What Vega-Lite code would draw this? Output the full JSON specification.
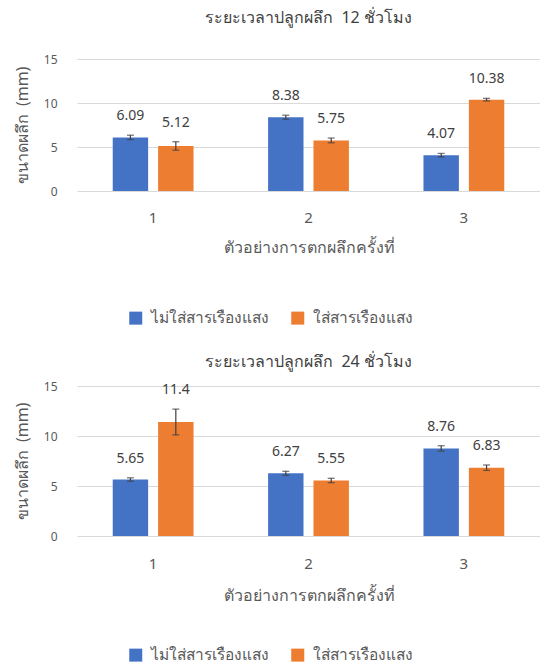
{
  "$schema": "https://vega.github.io/schema/vega-lite/v6.json",
  "padding": {"left": 14, "top": 10, "right": 0, "bottom": 0},
  "background": "white",
  "config": {
    "font": "Noto Sans",
    "view": {"stroke": null},
    "axis": {
      "labelColor": "#595959",
      "titleColor": "#595959",
      "labelFontSize": 12,
      "titleFontSize": 16,
      "titleFontWeight": "normal",
      "gridColor": "#D9D9D9",
      "gridWidth": 1.2,
      "domain": false,
      "ticks": false,
      "tickSize": 0
    },
    "title": {"fontSize": 16, "fontWeight": "normal", "color": "#404040"},
    "legend": {"labelColor": "#595959", "labelFontSize": 15.5}
  },
  "datasets": {
    "h12": [
      {"sample": "1", "group": "ไม่ใส่สารเรืองแสง", "value": 6.09, "lo": 5.84, "hi": 6.34, "label": "6.09"},
      {"sample": "1", "group": "ใส่สารเรืองแสง", "value": 5.12, "lo": 4.64, "hi": 5.60, "label": "5.12"},
      {"sample": "2", "group": "ไม่ใส่สารเรืองแสง", "value": 8.38, "lo": 8.15, "hi": 8.61, "label": "8.38"},
      {"sample": "2", "group": "ใส่สารเรืองแสง", "value": 5.75, "lo": 5.48, "hi": 6.02, "label": "5.75"},
      {"sample": "3", "group": "ไม่ใส่สารเรืองแสง", "value": 4.07, "lo": 3.87, "hi": 4.27, "label": "4.07"},
      {"sample": "3", "group": "ใส่สารเรืองแสง", "value": 10.38, "lo": 10.23, "hi": 10.53, "label": "10.38"}
    ],
    "h24": [
      {"sample": "1", "group": "ไม่ใส่สารเรืองแสง", "value": 5.65, "lo": 5.48, "hi": 5.82, "label": "5.65"},
      {"sample": "1", "group": "ใส่สารเรืองแสง", "value": 11.4, "lo": 10.11, "hi": 12.69, "label": "11.4"},
      {"sample": "2", "group": "ไม่ใส่สารเรืองแสง", "value": 6.27, "lo": 6.07, "hi": 6.47, "label": "6.27"},
      {"sample": "2", "group": "ใส่สารเรืองแสง", "value": 5.55, "lo": 5.33, "hi": 5.77, "label": "5.55"},
      {"sample": "3", "group": "ไม่ใส่สารเรืองแสง", "value": 8.76, "lo": 8.49, "hi": 9.03, "label": "8.76"},
      {"sample": "3", "group": "ใส่สารเรืองแสง", "value": 6.83, "lo": 6.56, "hi": 7.10, "label": "6.83"}
    ]
  },
  "spacing": 27,
  "resolve": {"scale": {"color": "independent"}, "legend": {"color": "independent"}},
  "vconcat": [
    {
      "title": {"text": "ระยะเวลาปลูกผลึก\u00a0 12 ชั่วโมง", "offset": 27},
      "width": 463,
      "height": 132,
      "data": {"name": "h12"},
      "encoding": {
        "x": {"field": "sample", "type": "ordinal", "scale": {"paddingInner": 0.48, "paddingOuter": 0.23},
              "axis": {"title": "ตัวอย่างการตกผลึกครั้งที่", "labelAngle": 0, "labelFontSize": 15, "labelPadding": 19, "titlePadding": 14}},
        "xOffset": {"field": "group", "type": "nominal", "scale": {"domain": ["ไม่ใส่สารเรืองแสง", "ใส่สารเรืองแสง"], "paddingInner": 0.22, "paddingOuter": 0}}
      },
      "layer": [
        {
          "mark": {"type": "bar"},
          "encoding": {
            "y": {"field": "value", "type": "quantitative", "title": "ขนาดผลึก\u00a0 (mm)", "scale": {"domain": [0, 15], "nice": false},
                  "axis": {"values": [0, 5, 10, 15], "labelPadding": 20, "titlePadding": 13}},
            "color": {"field": "group", "type": "nominal",
                      "scale": {"domain": ["ไม่ใส่สารเรืองแสง", "ใส่สารเรืองแสง"], "range": ["#4472C4", "#ED7D31"]},
                      "legend": {"orient": "none", "legendX": 51, "legendY": 251, "direction": "horizontal", "title": null,
                                 "symbolType": "square", "symbolSize": 169, "symbolStrokeWidth": 0, "labelOffset": 7, "columnPadding": 21}}
          }
        },
        {
          "mark": {"type": "rule", "color": "#404040", "strokeWidth": 1.2},
          "encoding": {"y": {"field": "lo", "type": "quantitative", "title": "ขนาดผลึก\u00a0 (mm)"}, "y2": {"field": "hi"}}
        },
        {
          "mark": {"type": "tick", "color": "#404040", "size": 7, "thickness": 1.3},
          "encoding": {"y": {"field": "lo", "type": "quantitative", "title": "ขนาดผลึก\u00a0 (mm)"}}
        },
        {
          "mark": {"type": "tick", "color": "#404040", "size": 7, "thickness": 1.3},
          "encoding": {"y": {"field": "hi", "type": "quantitative", "title": "ขนาดผลึก\u00a0 (mm)"}}
        },
        {
          "mark": {"type": "text", "dy": -19, "fontSize": 14, "color": "#404040", "baseline": "middle"},
          "encoding": {"y": {"field": "hi", "type": "quantitative", "title": "ขนาดผลึก\u00a0 (mm)"}, "text": {"field": "label", "type": "nominal"}}
        }
      ]
    },
    {
      "title": {"text": "ระยะเวลาปลูกผลึก\u00a0 24 ชั่วโมง", "offset": 10},
      "width": 463,
      "height": 150,
      "data": {"name": "h24"},
      "encoding": {
        "x": {"field": "sample", "type": "ordinal", "scale": {"paddingInner": 0.48, "paddingOuter": 0.23},
              "axis": {"title": "ตัวอย่างการตกผลึกครั้งที่", "labelAngle": 0, "labelFontSize": 15, "labelPadding": 20, "titlePadding": 16}},
        "xOffset": {"field": "group", "type": "nominal", "scale": {"domain": ["ไม่ใส่สารเรืองแสง", "ใส่สารเรืองแสง"], "paddingInner": 0.22, "paddingOuter": 0}}
      },
      "layer": [
        {
          "mark": {"type": "bar"},
          "encoding": {
            "y": {"field": "value", "type": "quantitative", "title": "ขนาดผลึก\u00a0 (mm)", "scale": {"domain": [0, 15], "nice": false},
                  "axis": {"values": [0, 5, 10, 15], "labelPadding": 20, "titlePadding": 13}},
            "color": {"field": "group", "type": "nominal",
                      "scale": {"domain": ["ไม่ใส่สารเรืองแสง", "ใส่สารเรืองแสง"], "range": ["#4472C4", "#ED7D31"]},
                      "legend": {"orient": "none", "legendX": 51, "legendY": 261, "direction": "horizontal", "title": null,
                                 "symbolType": "square", "symbolSize": 169, "symbolStrokeWidth": 0, "labelOffset": 7, "columnPadding": 21}}
          }
        },
        {
          "mark": {"type": "rule", "color": "#404040", "strokeWidth": 1.2},
          "encoding": {"y": {"field": "lo", "type": "quantitative", "title": "ขนาดผลึก\u00a0 (mm)"}, "y2": {"field": "hi"}}
        },
        {
          "mark": {"type": "tick", "color": "#404040", "size": 7, "thickness": 1.3},
          "encoding": {"y": {"field": "lo", "type": "quantitative", "title": "ขนาดผลึก\u00a0 (mm)"}}
        },
        {
          "mark": {"type": "tick", "color": "#404040", "size": 7, "thickness": 1.3},
          "encoding": {"y": {"field": "hi", "type": "quantitative", "title": "ขนาดผลึก\u00a0 (mm)"}}
        },
        {
          "mark": {"type": "text", "dy": -19, "fontSize": 14, "color": "#404040", "baseline": "middle"},
          "encoding": {"y": {"field": "hi", "type": "quantitative", "title": "ขนาดผลึก\u00a0 (mm)"}, "text": {"field": "label", "type": "nominal"}}
        }
      ]
    }
  ]
}
